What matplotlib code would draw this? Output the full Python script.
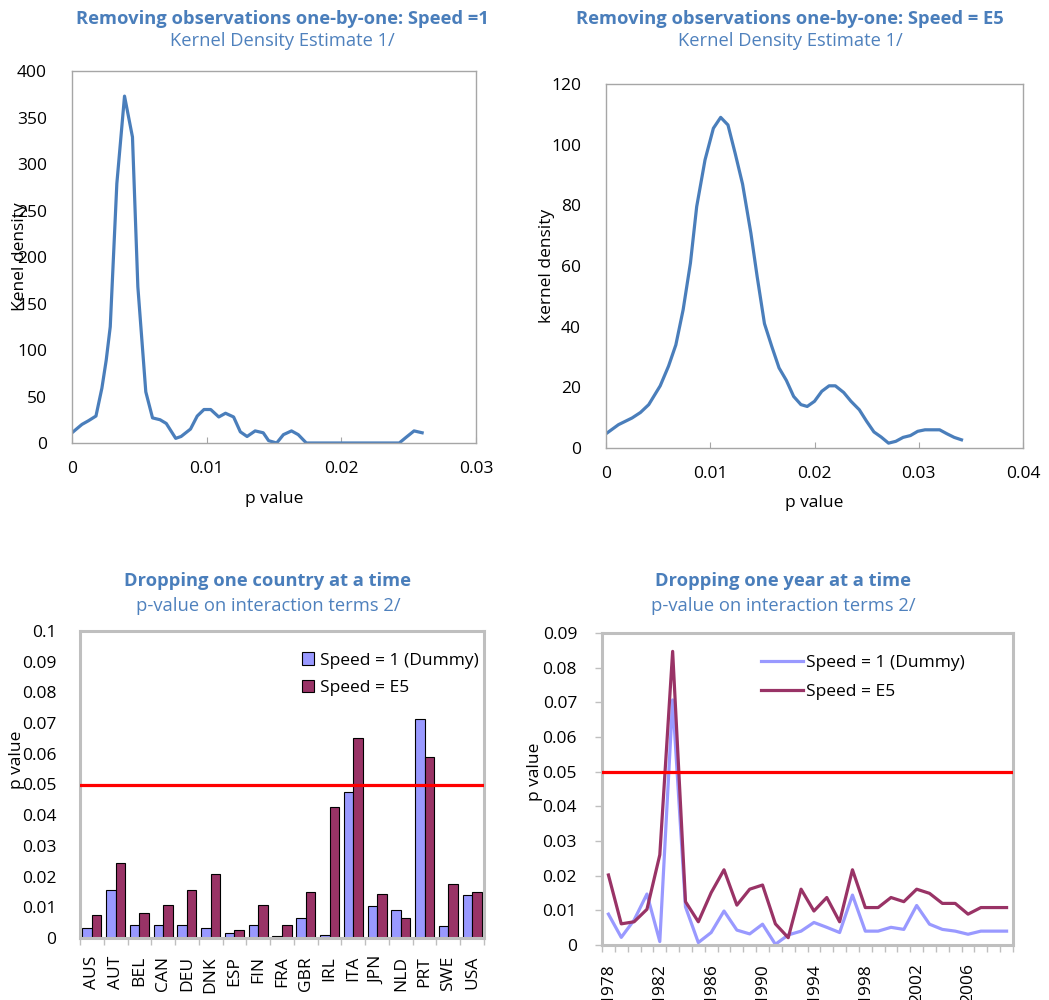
import numpy as np
import matplotlib
matplotlib.use("Agg")
from matplotlib import pyplot as plt
from matplotlib.ticker import FormatStrFormatter, FixedLocator, MultipleLocator

plt.rcParams['font.family'] = ['Open Sans', 'DejaVu Sans']

# kernel density, speed = 1
kde1_x = [0.0, 0.00074, 0.00123, 0.00178, 0.00222, 0.00254, 0.00284, 0.00333, 0.0039,
          0.00449, 0.00489, 0.00548, 0.00598, 0.00654, 0.0070, 0.0077, 0.0081, 0.0088,
          0.0093, 0.0098, 0.0103, 0.0109, 0.0114, 0.0120, 0.0125, 0.0130, 0.0136,
          0.0142, 0.0146, 0.0152, 0.0157, 0.0163, 0.0168, 0.0174, 0.0200, 0.0243,
          0.0248, 0.0254, 0.0260]
kde1_y = [11, 20, 24, 29, 59, 89, 125, 279, 373,
          329, 168, 55, 27, 25, 21, 5, 7, 15,
          29, 36, 36, 28, 32, 28, 12, 7, 13,
          11, 2.5, 0, 9, 13, 9, 0, 0, 0,
          6, 13, 11]

# kernel density, speed = E5
kde2_x = [0.0, 0.0012, 0.0025, 0.0033, 0.0041, 0.0052, 0.0060, 0.0067, 0.0074, 0.0081,
          0.0087, 0.0095, 0.0103, 0.0110, 0.0117, 0.0124, 0.0131, 0.0139, 0.0145, 0.0152,
          0.0159, 0.0166, 0.0173, 0.0180, 0.0187, 0.0193, 0.0200, 0.0207, 0.0214, 0.0220,
          0.0228, 0.0235, 0.0243, 0.0250, 0.0257, 0.0264, 0.0271, 0.0278, 0.0285, 0.0292,
          0.0299, 0.0306, 0.0320, 0.0327, 0.0334, 0.0341]
kde2_y = [4.7, 7.7, 9.9, 11.7, 14.3, 20.5, 27, 34, 45.6, 61,
          79.6, 95, 105.4, 109, 106.5, 97, 87, 70.8, 56.5, 41,
          33.5, 26.4, 22.3, 17, 14.3, 13.7, 15.4, 18.7, 20.5, 20.5,
          18.3, 15.4, 12.6, 8.8, 5.3, 3.6, 1.6, 2.2, 3.5, 4.1,
          5.5, 6, 6, 4.7, 3.5, 2.7]

countries = ["AUS", "AUT", "BEL", "CAN", "DEU", "DNK", "ESP", "FIN", "FRA",
             "GBR", "IRL", "ITA", "JPN", "NLD", "PRT", "SWE", "USA"]
country_dummy = [0.0033, 0.0155, 0.0043, 0.0043, 0.0043, 0.0033, 0.0016, 0.0043, 0.0005,
                 0.0065, 0.0011, 0.0475, 0.0103, 0.0090, 0.0713, 0.0038, 0.0139]
country_e5 = [0.0076, 0.0245, 0.0081, 0.0106, 0.0155, 0.0208, 0.0027, 0.0106, 0.0043,
              0.0150, 0.0426, 0.0653, 0.0144, 0.0065, 0.0590, 0.0176, 0.0150]

years = list(range(1978, 2010))
year_dummy = [0.0089, 0.0022, 0.0072, 0.0147, 0.0010, 0.0707, 0.0110, 0.0007, 0.0036, 0.0098,
              0.0043, 0.0032, 0.0060, 0.0002, 0.0029, 0.0040, 0.0065, 0.0051, 0.0036, 0.0144,
              0.0040, 0.0040, 0.0051, 0.0045, 0.0114, 0.0060, 0.0045, 0.0040, 0.0031, 0.0040,
              0.0040, 0.0040]
year_e5 = [0.0202, 0.0061, 0.0067, 0.0103, 0.0260, 0.0847, 0.0125, 0.0067, 0.0151, 0.0217,
           0.0115, 0.0161, 0.0173, 0.0061, 0.0021, 0.0161, 0.0098, 0.0137, 0.0067, 0.0217,
           0.0108, 0.0108, 0.0137, 0.0125, 0.0161, 0.0149, 0.0120, 0.0120, 0.0089, 0.0108,
           0.0108, 0.0108]

threshold = 0.05

title_col = "#4A7EBB"
sub_col = "#4F81BD"
line_col = "#4A7EBB"
blue = "#9999FF"
maroon = "#993366"
W, H = 1049, 1000
FS = 12.5

fig = plt.figure(figsize=(10.49, 10.0), dpi=100)


def box(l, t, r, b):
    return [l / W, 1 - b / H, (r - l) / W, (b - t) / H]


def head(x, y1, y2, title, sub, size=13.2):
    fig.text(x / W, 1 - y1 / H, title, ha="center", va="center", fontsize=size,
             fontweight="bold", color=title_col)
    fig.text(x / W, 1 - y2 / H, sub, ha="center", va="center", fontsize=size,
             color=sub_col)


def kde_axes(ax, xs, ys, xmax, ymax, ystep, ylabel, lx, ly):
    ax.plot(xs, ys, color=line_col, lw=2.3)
    ax.set_xlim(0, xmax)
    ax.set_ylim(0, ymax)
    ax.xaxis.set_major_locator(MultipleLocator(0.01))
    ax.yaxis.set_major_locator(MultipleLocator(ystep))
    ax.xaxis.set_major_formatter(FormatStrFormatter("%g"))
    ax.yaxis.set_major_formatter(FormatStrFormatter("%g"))
    for s in ax.spines.values():
        s.set_color("#A6A6A6")
        s.set_linewidth(1.0)
    ax.tick_params(axis="x", direction="in", length=4, color="#A6A6A6", labelsize=FS, pad=13)
    ax.tick_params(axis="y", length=0, labelsize=FS, pad=18)
    ax.set_xlabel("p value", fontsize=FS)
    ax.set_ylabel(ylabel, fontsize=FS)
    ax.xaxis.set_label_coords(0.5, lx)
    ax.yaxis.set_label_coords(ly, 0.5)


# top left
ax1 = fig.add_axes(box(72, 71, 476, 443))
kde_axes(ax1, kde1_x, kde1_y, 0.03, 400, 50, "Kenel density", -0.13, -0.11)
head(282, 19, 41, "Removing observations one-by-one: Speed =1", "Kernel Density Estimate 1/")

# top right
ax2 = fig.add_axes(box(606, 84, 1023, 448))
kde_axes(ax2, kde2_x, kde2_y, 0.04, 120, 20, "kernel density", -0.13, -0.122)
head(790, 19, 41, "Removing observations one-by-one: Speed = E5", "Kernel Density Estimate 1/")


def frame(ax):
    for s in ax.spines.values():
        s.set_color("#BFBFBF")
        s.set_linewidth(2.2)
    ax.yaxis.set_major_formatter(FormatStrFormatter("%g"))
    ax.tick_params(axis="x", which="major", length=0, labelsize=FS, rotation=90)
    ax.tick_params(axis="x", which="minor", length=5, width=1, color="#BFBFBF")
    ax.set_ylabel("p value", fontsize=FS)


# bottom left: bars
ax3 = fig.add_axes(box(80, 631, 484, 938))
pos = np.arange(len(countries))
ax3.bar(pos - 0.2, country_dummy, width=0.4, color=blue, edgecolor="black", lw=0.8,
        label="Speed = 1 (Dummy)")
ax3.bar(pos + 0.2, country_e5, width=0.4, color=maroon, edgecolor="black", lw=0.8,
        label="Speed = E5")
ax3.axhline(threshold, color="#FF0000", lw=2.3, zorder=3)
ax3.set_xlim(-0.5, len(countries) - 0.5)
ax3.set_ylim(0, 0.1)
ax3.yaxis.set_major_locator(MultipleLocator(0.01))
ax3.set_xticks(pos)
ax3.set_xticklabels(countries)
ax3.xaxis.set_minor_locator(FixedLocator(np.arange(-0.5, len(countries), 1.0)))
frame(ax3)
ax3.tick_params(axis="x", which="major", pad=13)
ax3.tick_params(axis="y", length=0, labelsize=FS, pad=17)
ax3.yaxis.set_label_coords(-0.136, 0.58)
ax3.legend(loc="upper left", bbox_to_anchor=(0.55, 0.93), frameon=False, fontsize=FS,
           handlelength=0.7, handleheight=0.7, handletextpad=0.3, labelspacing=0.65,
           borderpad=0, borderaxespad=0)
head(268, 581, 606, "Dropping one country at a time", "p-value on interaction terms 2/")

# bottom right: lines
ax4 = fig.add_axes(box(602, 633, 1013, 945))
ypos = np.arange(len(years))
ax4.plot(ypos, year_dummy, color=blue, lw=2.3, label="Speed = 1 (Dummy)")
ax4.plot(ypos, year_e5, color=maroon, lw=2.3, label="Speed = E5")
ax4.axhline(threshold, color="#FF0000", lw=2.3, zorder=3)
ax4.set_xlim(-0.5, len(years) - 0.5)
ax4.set_ylim(0, 0.09)
ax4.yaxis.set_major_locator(MultipleLocator(0.01))
ax4.set_xticks(ypos[::4])
ax4.set_xticklabels([str(y) for y in years[::4]])
ax4.xaxis.set_minor_locator(FixedLocator(np.arange(-0.5, len(years), 1.0)))
frame(ax4)
ax4.tick_params(axis="x", which="major", pad=13)
ax4.tick_params(axis="y", length=5, width=1, color="#BFBFBF", labelsize=FS, pad=13)
ax4.yaxis.set_label_coords(-0.1436, 0.554)
ax4.legend(loc="upper left", bbox_to_anchor=(0.387, 0.93), frameon=False, fontsize=FS,
           handlelength=2.4, handletextpad=0.2, labelspacing=0.75,
           borderpad=0, borderaxespad=0)
head(783, 581, 606, "Dropping one year at a time", "p-value on interaction terms 2/")

fig.savefig("out.png", dpi=100)
